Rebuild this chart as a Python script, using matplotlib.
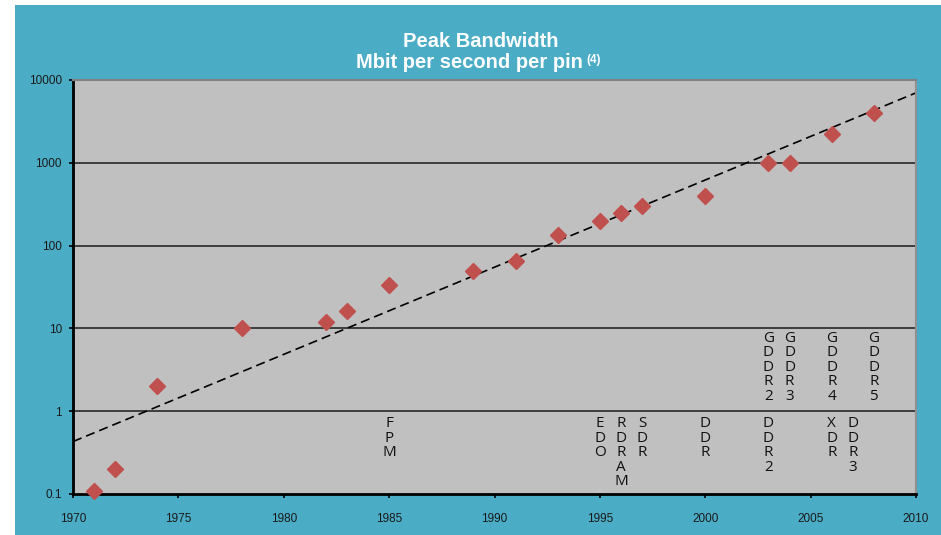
import matplotlib
matplotlib.use("Agg")
import matplotlib.pyplot as plt
from matplotlib.patches import Rectangle
from matplotlib.ticker import FixedLocator, NullLocator

# ---- data ----
years = [1971, 1972, 1974, 1978, 1982, 1983, 1985, 1989, 1991, 1993,
         1995, 1996, 1997, 2000, 2003, 2004, 2006, 2008]
bandwidth = [0.108, 0.2, 2, 10, 12, 16, 33, 50, 66, 133,
             200, 250, 300, 400, 1000, 1000, 2200, 4000]

trend_years = [1970, 2010]
trend_values = [0.43, 7000]

upper_labels = ["GDDR2", "GDDR3", "GDDR4", "GDDR5"]
upper_years = [2003, 2004, 2006, 2008]

lower_labels = ["FPM", "EDO", "RDRAM", "SDR", "DDR", "DDR2", "XDR", "DDR3"]
lower_years = [1985, 1995, 1996, 1997, 2000, 2003, 2006, 2007]

x_ticks = [1970, 1975, 1980, 1985, 1990, 1995, 2000, 2005, 2010]
y_ticks = [0.1, 1, 10, 100, 1000, 10000]
y_ticklabels = ["0.1", "1", "10", "100", "1000", "10000"]

title1 = "Peak Bandwidth"
title2 = "Mbit per second per pin"
title_sup = "(4)"

# ---- style ----
W, H = 941, 535
BLUE = "#4BACC6"
PLOT_BG = "#C0C0C0"
MARKER = "#C0504D"
SANS = ["Liberation Sans", "DejaVu Sans"]

fig = plt.figure(figsize=(W / 100, H / 100), dpi=100)
fig.patch.set_facecolor("white")
fig.patches.append(Rectangle((15 / W, 0), 1 - 15 / W, 1 - 5 / H,
                             transform=fig.transFigure, facecolor=BLUE,
                             edgecolor="none", zorder=-5))

ax = fig.add_axes([73 / W, 1 - 494 / H, (916 - 73) / W, (494 - 80) / H])
ax.set_zorder(2)
ax.set_facecolor(PLOT_BG)
ax.set_yscale("log")
ax.set_xlim(1970, 2010)
ax.set_ylim(0.1, 10000)

for yv in [1, 10, 100, 1000]:
    ax.axhline(yv, color="#1a1a1a", lw=1.1, zorder=1)

ax.plot(trend_years, trend_values, color="black", lw=1.2,
        dashes=(5.5, 3), zorder=2)
ax.plot(years, bandwidth, linestyle="none", marker="D", markersize=8.5,
        color=MARKER, markeredgecolor=MARKER, zorder=3, clip_on=False)

for lab, yr in zip(upper_labels, upper_years):
    ax.text(yr, 9.3, "\n".join(lab), ha="center", va="top",
            fontsize=11, linespacing=0.95,
            family=["Open Sans", "DejaVu Sans"], color="#111111", zorder=4)
for lab, yr in zip(lower_labels, lower_years):
    ax.text(yr, 0.87, "\n".join(lab), ha="center", va="top",
            fontsize=11, linespacing=0.95,
            family=["Open Sans", "DejaVu Sans"], color="#111111", zorder=4)

ax.yaxis.set_major_locator(FixedLocator(y_ticks))
ax.yaxis.set_minor_locator(NullLocator())
ax.set_yticklabels(y_ticklabels)
ax.xaxis.set_major_locator(FixedLocator(x_ticks))
ax.set_xticklabels([str(x) for x in x_ticks])

for lbl in ax.get_xticklabels() + ax.get_yticklabels():
    lbl.set_family(SANS)
    lbl.set_fontsize(8.5)
    lbl.set_color("#1a1a1a")

ax.tick_params(axis="y", direction="out", length=3, width=1.2, pad=5)
ax.tick_params(axis="x", direction="out", length=3, width=1.2, pad=11)

ax.spines["left"].set_linewidth(2)
ax.spines["bottom"].set_linewidth(2)
ax.spines["left"].set_color("black")
ax.spines["bottom"].set_color("black")
ax.spines["top"].set_color("#808080")
ax.spines["right"].set_color("#909090")
ax.spines["top"].set_linewidth(1.5)
ax.spines["right"].set_linewidth(1.5)

# ---- title ----
fig.text(481 / W, 1 - 47 / H, title1, ha="center", va="baseline",
         fontsize=14.5, fontweight="bold", color="white", family=SANS)
fig.text(583 / W, 1 - 68 / H, title2, ha="right", va="baseline",
         fontsize=14.5, fontweight="bold", color="white", family=SANS)
fig.text(586 / W, 1 - 63 / H, title_sup, ha="left", va="baseline",
         fontsize=8.5, fontweight="bold", color="white", family=SANS)

fig.savefig("out.png", dpi=100, facecolor=fig.get_facecolor())
